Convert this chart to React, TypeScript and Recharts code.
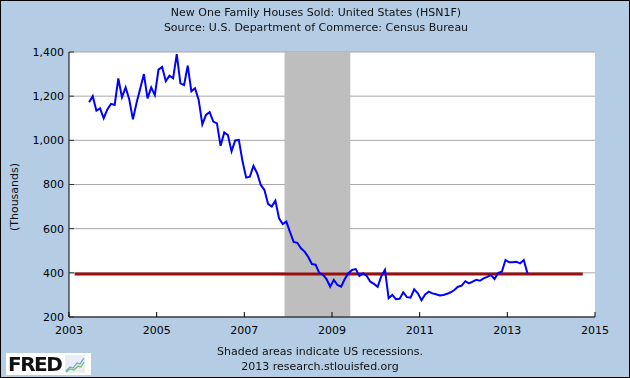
import { LineChart, Line, XAxis, YAxis, CartesianGrid, ReferenceArea } from "recharts"

// monthly, starting June 2003 (thousands, SAAR)
const START_YEAR = 2003
const START_MONTH = 6
const housesSold = [
  1172, 1200, 1134, 1145, 1100, 1140, 1165, 1160, 1280, 1195, 1240, 1185,
  1095, 1170, 1235, 1300, 1190, 1240, 1205, 1320, 1332, 1268, 1293, 1281,
  1390, 1258, 1250, 1338, 1222, 1236, 1183, 1072, 1115, 1128, 1085, 1077,
  975, 1036, 1024, 950, 1000, 1002, 905, 831, 835, 884, 851, 798,
  775, 712, 700, 727, 647, 621, 632, 585, 540, 536, 511, 496,
  472, 440, 437, 400, 392, 372, 337, 368, 345, 337, 372, 398,
  413, 417, 386, 398, 386, 360, 350, 337, 385, 414, 285, 300,
  281, 282, 312, 290, 288, 325, 307, 276, 302, 315, 307, 303,
  298, 300, 305, 312, 322, 337, 342, 362, 352, 360, 368, 364,
  375, 382, 390, 372, 400, 405, 458, 448, 448, 450, 443, 458,
  398,
]

const yearTicks = [2003, 2005, 2007, 2009, 2011, 2013, 2015]
const valueTicks = [200, 400, 600, 800, 1000, 1200, 1400]

const recessionStart = 2007.917
const recessionEnd = 2009.417

const refLevel = 395
const refFrom = 2003.13
const refTo = 2014.72

const seriesData = housesSold.map((v, i) => ({
  t: START_YEAR + (START_MONTH - 1 + i + 0.5) / 12,
  v,
}))
const refData = [
  { t: refFrom, r: refLevel },
  { t: refTo, r: refLevel },
]

const FONT = "'DejaVu Sans', Verdana, sans-serif"
const tickStyle = { fontSize: 11, fill: "#000", fontFamily: FONT }

function FredLogo() {
  return (
    <div
      style={{
        position: "absolute",
        left: 5,
        top: 352,
        width: 85,
        height: 22,
        background: "#fff",
        display: "flex",
        alignItems: "center",
      }}
    >
      <span
        style={{
          fontFamily: FONT,
          fontWeight: "bold",
          fontSize: 20,
          letterSpacing: -1.5,
          color: "#111",
          marginLeft: 2,
          lineHeight: "20px",
        }}
      >
        FRED
      </span>
      <svg width={20} height={18} style={{ marginLeft: 4 }}>
        <rect x={0} y={0} width={20} height={18} fill="#e8eef4" />
        <polyline points="1,16 5,12 8,13 12,8 15,9 19,3" fill="none" stroke="#6fa0d0" strokeWidth={1.2} />
        <polyline points="1,17 5,14 9,15 13,11 16,12 19,7" fill="none" stroke="#7cbf5a" strokeWidth={1.2} />
      </svg>
    </div>
  )
}

export default function App() {
  return (
    <div
      style={{
        position: "fixed",
        left: 0,
        top: 0,
        width: 630,
        height: 378,
        boxSizing: "border-box",
        border: "1px solid #000",
        background: "#B4CDE5",
        fontFamily: FONT,
        color: "#111",
      }}
    >
      <div style={{ position: "absolute", left: -1, top: -1, width: 630, height: 378 }}>
        <LineChart width={630} height={378} margin={{ top: 52, right: 35, bottom: 31, left: 9 }}>
          <CartesianGrid horizontal vertical={false} stroke="#A8A8A8" fill="#fff" />
          <ReferenceArea x1={recessionStart} x2={recessionEnd} fill="#BEBEBE" fillOpacity={1} stroke="none" />
          <XAxis
            dataKey="t"
            type="number"
            domain={[2003, 2015]}
            ticks={yearTicks}
            tick={tickStyle}
            axisLine={{ stroke: "#000" }}
            tickLine={{ stroke: "#000" }}
            tickSize={-5}
            tickMargin={14}
            height={30}
            allowDataOverflow
          />
          <YAxis
            type="number"
            domain={[200, 1400]}
            ticks={valueTicks}
            tick={tickStyle}
            tickFormatter={(v: number) => v.toLocaleString("en-US")}
            axisLine={{ stroke: "#000" }}
            tickLine={{ stroke: "#333" }}
            tickSize={-5}
            tickMargin={10}
            width={60}
            allowDataOverflow
          />
          <Line
            data={refData}
            dataKey="r"
            type="linear"
            stroke="#990F0F"
            strokeWidth={3}
            dot={false}
            isAnimationActive={false}
          />
          <Line
            data={seriesData}
            dataKey="v"
            type="linear"
            stroke="#0000FF"
            strokeWidth={2}
            dot={false}
            isAnimationActive={false}
          />
        </LineChart>
      </div>

      <div style={{ position: "absolute", left: 0, width: 630, top: 4, textAlign: "center", fontSize: 11, lineHeight: "15px" }}>
        <div>New One Family Houses Sold: United States (HSN1F)</div>
        <div>Source: U.S. Department of Commerce: Census Bureau</div>
      </div>

      <div
        style={{
          position: "absolute",
          left: 13,
          top: 196,
          transform: "translate(-50%, -50%) rotate(-90deg)",
          fontSize: 11,
          whiteSpace: "nowrap",
        }}
      >
        (Thousands)
      </div>

      <div style={{ position: "absolute", left: 4, width: 630, top: 343, textAlign: "center", fontSize: 11, lineHeight: "15px" }}>
        <div>Shaded areas indicate US recessions.</div>
        <div>2013 research.stlouisfed.org</div>
      </div>

      <FredLogo />
    </div>
  )
}
